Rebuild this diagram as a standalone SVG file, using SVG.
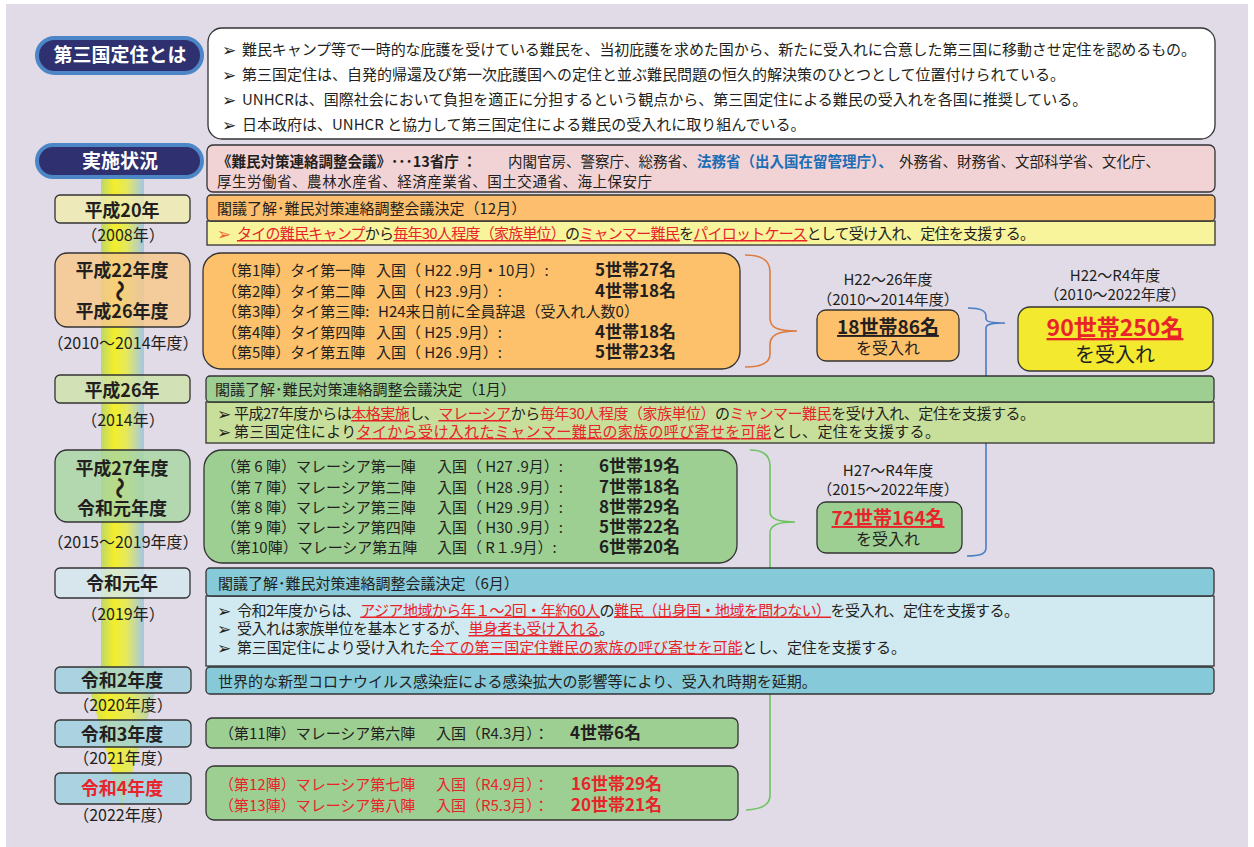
<svg xmlns="http://www.w3.org/2000/svg" width="1254" height="847" viewBox="0 0 1254 847">
<defs>
<style>
text{font-family:"Noto Sans CJK JP","Noto Sans",sans-serif;font-size:15px;fill:#231f20}
.b{font-weight:bold}
.r{fill:#e8242a}
.u{text-decoration:underline}
.bl{fill:#1b6db5}
.w{fill:#fff}
.c{text-anchor:middle}
.ar{font-family:"DejaVu Sans",sans-serif;font-size:17px}
.ao{fill:#f0642d}
.lab{font-size:18px;font-weight:bold;text-anchor:middle}
.wave{font-size:22px;font-weight:bold;text-anchor:middle}
.yr{font-size:16px;text-anchor:middle}
.num{font-size:17px;font-weight:bold}
.pt{font-size:19px;font-weight:bold;text-anchor:middle;fill:#fff}
.s145{font-size:14.5px}
.tot{font-size:19px;font-weight:bold;text-anchor:middle;text-decoration:underline}
.big{font-size:23px;font-weight:bold;text-anchor:middle;text-decoration:underline;fill:#e8242a}
.acc{font-size:16px;text-anchor:middle}
.acc2{font-size:20px;text-anchor:middle}
.box{stroke:#333;stroke-width:1.3}
.lb{stroke:#333;stroke-width:1.3;fill-opacity:0.8}
.br{fill:none;stroke-width:1.6}
.pill{fill:#2e3070;stroke:#4d86c6;stroke-width:4}
</style>
<linearGradient id="barg" x1="0" y1="0" x2="1" y2="0">
<stop offset="0" stop-color="#bcd66c"/>
<stop offset="0.3" stop-color="#f3ee2a"/>
<stop offset="0.6" stop-color="#e4e860"/>
<stop offset="1" stop-color="#a3c6e6"/>
</linearGradient>
</defs>

<rect x="6" y="4" width="1242" height="843" fill="#e1dbe7"/>

<g id="timeline-bar">
<rect x="101" y="178" width="43" height="491" fill="url(#barg)"/>
<polygon points="84,668 162,668 122,808" fill="url(#barg)"/>
</g>

<g id="connectors">
<path class="br" stroke="#dc7b3d" d="M745,255 C762,255 770,260 770,272 L770,318 C770,327 776,331 797,331 C776,331 770,336 770,345 L770,354 C770,363 762,367 745,367"/>
<path class="br" stroke="#4a7fc1" d="M968,308 C980,308 986,310 986,316 L986,319 C986,322 992,323 1005,323 C992,323 986,324 986,328 L986,548 C986,554 980,556 967,556"/>
<path class="br" stroke="#6cc35f" d="M750,450 C763,450 770,455 770,466 L770,512 C770,519 778,522 795,522 C778,522 770,525 770,533 L770,795 C770,805 762,809 746,810"/>
</g>

<g id="pill-about">
<rect class="pill" x="37" y="38" width="165" height="35" rx="17.5"/>
<text class="pt" x="120" y="62">第三国定住とは</text>
</g>

<g id="about-box">
<rect class="box" x="208" y="28" width="1007" height="111" rx="14" fill="#fff"/>
<text class="ar" x="222" y="56">➢</text>
<text x="242" y="55" textLength="954" lengthAdjust="spacing">難民キャンプ等で一時的な庇護を受けている難民を、当初庇護を求めた国から、新たに受入れに合意した第三国に移動させ定住を認めるもの。</text>
<text class="ar" x="222" y="81">➢</text>
<text x="242" y="80">第三国定住は、自発的帰還及び第一次庇護国への定住と並ぶ難民問題の恒久的解決策のひとつとして位置付けられている。</text>
<text class="ar" x="222" y="106">➢</text>
<text x="242" y="105">UNHCRは、国際社会において負担を適正に分担するという観点から、第三国定住による難民の受入れを各国に推奨している。</text>
<text class="ar" x="222" y="131">➢</text>
<text x="242" y="130">日本政府は、UNHCR と協力して第三国定住による難民の受入れに取り組んでいる。</text>
</g>

<g id="pill-status">
<rect class="pill" x="37" y="145" width="165" height="32" rx="16"/>
<text class="pt" x="120" y="168">実施状況</text>
</g>

<g id="council-box">
<rect class="box" x="207" y="145" width="1008" height="47" rx="6" fill="#f2d3d5"/>
<text class="s145" y="167"><tspan x="217" class="b">《難民対策連絡調整会議》･･･13省庁 ：</tspan><tspan x="508">内閣官房、警察庁、総務省、</tspan><tspan x="697" class="b bl">法務省（出入国在留管理庁）、</tspan><tspan x="899">外務省、財務省、文部科学省、文化庁、</tspan></text>
<text class="s145" x="217" y="187" textLength="435" lengthAdjust="spacing">厚生労働省、農林水産省、経済産業省、国土交通省、海上保安庁</text>
</g>

<g id="label-h20">
<rect class="lb" x="55" y="195" width="135" height="28" rx="5" fill="#f1ecae"/>
<text class="lab" x="122" y="217">平成20年</text>
<text class="yr" x="123" y="241">（2008年）</text>
</g>

<g id="decision-2008">
<rect class="box" x="207" y="221" width="1008" height="24" fill="#f7f49c"/>
<rect class="box" x="207" y="195" width="1008" height="26" rx="4" fill="#fdbf6d"/>
<text x="217" y="214">閣議了解･難民対策連絡調整会議決定（12月）</text>
<text class="ar ao" x="217" y="240">➢</text>
<text x="237" y="239" textLength="798" lengthAdjust="spacing"><tspan class="r u">タイの難民キャンプ</tspan>から<tspan class="r u">毎年30人程度（家族単位）</tspan>の<tspan class="r u">ミャンマー難民</tspan>を<tspan class="r u">パイロットケース</tspan>として受け入れ、定住を支援する。</text>
</g>

<g id="label-h22-26">
<rect class="lb" x="55" y="253" width="135" height="74" rx="12" fill="#f9c88a"/>
<text class="lab" x="122" y="277">平成22年度</text>
<text class="wave" x="122" y="291" dominant-baseline="central" transform="rotate(90 122 291)">～</text>
<text class="lab" x="122" y="318">平成26年度</text>
<text class="yr" x="123" y="349">（2010～2014年度）</text>
</g>

<g id="thai-batches">
<rect class="box" x="203" y="253" width="537" height="116" rx="18" fill="#fdc06b"/>
<text y="276"><tspan x="222">（第1陣）タイ第一陣</tspan><tspan x="376">入国（ H22 .9月・10月）:</tspan><tspan x="595" class="num">5世帯27名</tspan></text>
<text y="296.5"><tspan x="222">（第2陣）タイ第二陣</tspan><tspan x="376">入国（ H23 .9月）:</tspan><tspan x="595" class="num">4世帯18名</tspan></text>
<text y="317"><tspan x="222">（第3陣）タイ第三陣:</tspan><tspan x="378">H24来日前に全員辞退（受入れ人数0）</tspan></text>
<text y="337.5"><tspan x="222">（第4陣）タイ第四陣</tspan><tspan x="376">入国（ H25 .9月）:</tspan><tspan x="595" class="num">4世帯18名</tspan></text>
<text y="358"><tspan x="222">（第5陣）タイ第五陣</tspan><tspan x="376">入国（ H26 .9月）:</tspan><tspan x="595" class="num">5世帯23名</tspan></text>
</g>

<g id="total-thai">
<text class="c" x="888" y="285">H22～26年度</text>
<text class="c" x="888" y="304.5">（2010～2014年度）</text>
<rect class="box" x="817" y="310" width="142" height="51" rx="9" fill="#fdc06b"/>
<text class="tot" x="888" y="334">18世帯86名</text>
<text class="acc" x="888" y="354">を受入れ</text>
</g>

<g id="total-all">
<text class="c" x="1115" y="281">H22～R4年度</text>
<text class="c" x="1115" y="300">（2010～2022年度）</text>
<rect class="box" x="1018" y="307" width="195" height="64" rx="12" fill="#f3e92f"/>
<text class="big" x="1115" y="336">90世帯250名</text>
<text class="acc2" x="1115" y="362">を受入れ</text>
</g>

<g id="label-h26">
<rect class="lb" x="55" y="375" width="135" height="28" rx="5" fill="#cfe2ab"/>
<text class="lab" x="122" y="397">平成26年</text>
<text class="yr" x="123" y="426">（2014年）</text>
</g>

<g id="decision-2014">
<rect class="box" x="206" y="402" width="1008" height="41" fill="#c8df9b"/>
<rect class="box" x="206" y="376" width="1008" height="26" rx="4" fill="#9dcf93"/>
<text x="215" y="395">閣議了解･難民対策連絡調整会議決定（1月）</text>
<text class="ar" x="217" y="420">➢</text>
<text x="234" y="419" textLength="801" lengthAdjust="spacing">平成27年度からは<tspan class="r u">本格実施</tspan>し、<tspan class="r u">マレーシア</tspan>から<tspan class="r">毎年30人程度（家族単位）</tspan>の<tspan class="r">ミャンマー難民</tspan>を受け入れ、定住を支援する。</text>
<text class="ar" x="217" y="438">➢</text>
<text x="234" y="437" textLength="706" lengthAdjust="spacing">第三国定住により<tspan class="r u">タイから受け入れたミャンマー難民の家族の呼び寄せを可能</tspan>とし、定住を支援する。</text>
</g>

<g id="label-h27-r1">
<rect class="lb" x="55" y="450" width="135" height="72" rx="12" fill="#a8d6a0"/>
<text class="lab" x="122" y="475">平成27年度</text>
<text class="wave" x="122" y="488" dominant-baseline="central" transform="rotate(90 122 488)">～</text>
<text class="lab" x="122" y="515">令和元年度</text>
<text class="yr" x="123" y="548">（2015～2019年度）</text>
</g>

<g id="malaysia-batches">
<rect class="box" x="204" y="450" width="533" height="113" rx="18" fill="#9dcf93"/>
<text y="472"><tspan x="221">（第 6 陣）マレーシア第一陣</tspan><tspan x="437">入国（ H27 .9月）:</tspan><tspan x="599" class="num">6世帯19名</tspan></text>
<text y="492.5"><tspan x="221">（第 7 陣）マレーシア第二陣</tspan><tspan x="437">入国（ H28 .9月）:</tspan><tspan x="599" class="num">7世帯18名</tspan></text>
<text y="513"><tspan x="221">（第 8 陣）マレーシア第三陣</tspan><tspan x="437">入国（ H29 .9月）:</tspan><tspan x="599" class="num">8世帯29名</tspan></text>
<text y="533"><tspan x="221">（第 9 陣）マレーシア第四陣</tspan><tspan x="437">入国（ H30 .9月）:</tspan><tspan x="599" class="num">5世帯22名</tspan></text>
<text y="553"><tspan x="221">（第10陣）マレーシア第五陣</tspan><tspan x="437">入国（ R１.9月）:</tspan><tspan x="599" class="num">6世帯20名</tspan></text>
</g>

<g id="total-malaysia">
<text class="c" x="888" y="475.5">H27～R4年度</text>
<text class="c" x="888" y="494.5">（2015～2022年度）</text>
<rect class="box" x="817" y="502" width="145" height="51" rx="9" fill="#9dcf93"/>
<text class="tot r" x="888" y="525">72世帯164名</text>
<text class="acc" x="888" y="545">を受入れ</text>
</g>

<g id="label-r1">
<rect class="lb" x="55" y="568" width="135" height="30" rx="5" fill="#d4e9ef"/>
<text class="lab" x="122" y="590">令和元年</text>
<text class="yr" x="123" y="620">（2019年）</text>
</g>

<g id="decision-2019">
<rect class="box" x="206" y="596" width="1008" height="70" fill="#d1e9f0"/>
<rect class="box" x="206" y="568" width="1008" height="28" rx="4" fill="#86c9d8"/>
<text x="218" y="588.5">閣議了解･難民対策連絡調整会議決定（6月）</text>
<text class="ar" x="217" y="616.5">➢</text>
<text x="237" y="615.5" textLength="782" lengthAdjust="spacing">令和2年度からは、<tspan class="r u">アジア地域から年１～2回・年約60人</tspan>の<tspan class="r u">難民（出身国・地域を問わない）</tspan>を受入れ、定住を支援する。</text>
<text class="ar" x="217" y="635">➢</text>
<text x="237" y="634" textLength="377" lengthAdjust="spacing">受入れは家族単位を基本とするが、<tspan class="r u">単身者も受け入れる</tspan>。</text>
<text class="ar" x="217" y="653.5">➢</text>
<text x="237" y="652.5" textLength="669" lengthAdjust="spacing">第三国定住により受け入れた<tspan class="r u">全ての第三国定住難民の家族の呼び寄せを可能</tspan>とし、定住を支援する。</text>
</g>

<g id="label-r2">
<rect class="lb" x="55" y="667" width="136" height="26" rx="5" fill="#9dd0de"/>
<text class="lab" x="122" y="687">令和2年度</text>
<text class="yr" x="123" y="710.5">（2020年度）</text>
</g>

<g id="covid-box">
<rect class="box" x="206" y="667" width="1008" height="27" rx="4" fill="#86c9d8"/>
<text x="218" y="686.5">世界的な新型コロナウイルス感染症による感染拡大の影響等により、受入れ時期を延期。</text>
</g>

<g id="label-r3">
<rect class="lb" x="55" y="720" width="136" height="27" rx="5" fill="#9dd0de"/>
<text class="lab" x="122" y="741">令和3年度</text>
<text class="yr" x="123" y="763.5">（2021年度）</text>
</g>

<g id="batch-11">
<rect class="box" x="206" y="718" width="532" height="30" rx="6" fill="#9dcf93"/>
<text y="738.5"><tspan x="219">（第11陣）マレーシア第六陣</tspan><tspan x="436">入国（R4.3月）：</tspan><tspan x="570" class="num">4世帯6名</tspan></text>
</g>

<g id="label-r4">
<rect class="lb" x="55" y="773" width="136" height="31" rx="5" fill="#9dd0de"/>
<text class="lab r" x="122" y="795">令和4年度</text>
<text class="yr" x="123" y="820.5">（2022年度）</text>
</g>

<g id="batch-12-13">
<rect class="box" x="206" y="766" width="532" height="54" rx="8" fill="#9dcf93"/>
<text y="789.5" class="r"><tspan x="219">（第12陣）マレーシア第七陣</tspan><tspan x="436">入国（R4.9月）：</tspan><tspan x="571" class="num r">16世帯29名</tspan></text>
<text y="810.5" class="r"><tspan x="219">（第13陣）マレーシア第八陣</tspan><tspan x="436">入国（R5.3月）：</tspan><tspan x="571" class="num r">20世帯21名</tspan></text>
</g>
</svg>
